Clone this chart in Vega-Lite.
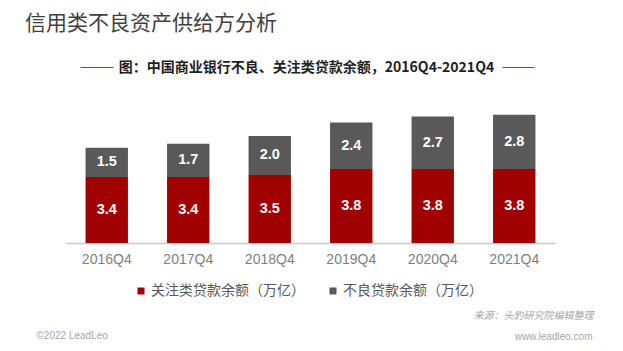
{
  "$schema": "https://vega.github.io/schema/vega-lite/v6.json",
  "width": 489,
  "height": 176,
  "autosize": {"type": "none"},
  "padding": {"left": 66, "top": 67, "right": 68, "bottom": 108},
  "background": "white",
  "config": {"view": {"stroke": null}, "font": "Noto Sans CJK SC"},
  "title": {
    "text": "信用类不良资产供给方分析",
    "anchor": "start",
    "frame": "group",
    "fontSize": 21,
    "fontWeight": "normal",
    "font": "Noto Sans CJK SC",
    "color": "#404040",
    "baseline": "middle",
    "offset": 0,
    "dx": -41,
    "dy": -15
  },
  "data": {
    "values": [
      {"q": "2016Q4", "type": "关注类贷款余额（万亿）", "v": 3.4},
      {"q": "2016Q4", "type": "不良贷款余额（万亿）", "v": 1.5},
      {"q": "2017Q4", "type": "关注类贷款余额（万亿）", "v": 3.4},
      {"q": "2017Q4", "type": "不良贷款余额（万亿）", "v": 1.7},
      {"q": "2018Q4", "type": "关注类贷款余额（万亿）", "v": 3.5},
      {"q": "2018Q4", "type": "不良贷款余额（万亿）", "v": 2.0},
      {"q": "2019Q4", "type": "关注类贷款余额（万亿）", "v": 3.8},
      {"q": "2019Q4", "type": "不良贷款余额（万亿）", "v": 2.4},
      {"q": "2020Q4", "type": "关注类贷款余额（万亿）", "v": 3.8},
      {"q": "2020Q4", "type": "不良贷款余额（万亿）", "v": 2.7},
      {"q": "2021Q4", "type": "关注类贷款余额（万亿）", "v": 3.8},
      {"q": "2021Q4", "type": "不良贷款余额（万亿）", "v": 2.8}
    ]
  },
  "transform": [
    {"stack": "v", "groupby": ["q"], "sort": [{"field": "type", "order": "descending"}], "as": ["y0", "y1"]}
  ],
  "layer": [
    {
      "mark": {"type": "bar"},
      "encoding": {
        "x": {
          "field": "q",
          "type": "nominal",
          "scale": {"domain": ["2016Q4", "2017Q4", "2018Q4", "2019Q4", "2020Q4", "2021Q4"], "paddingInner": 0.48, "paddingOuter": 0.24},
          "axis": {
            "orient": "bottom",
            "title": "来源：头豹研究院编辑整理",
            "titleFont": "Noto Sans CJK SC",
            "titleFontSize": 10,
            "titleFontStyle": "italic",
            "titleFontWeight": "normal",
            "titleColor": "#a6a6a6",
            "titleX": 527,
            "titleY": 72,
            "titleAlign": "right",
            "titleBaseline": "middle",
            "labelFont": "Liberation Sans",
            "labelFontSize": 14,
            "labelColor": "#7f7f7f",
            "labelPadding": 9,
            "labelAngle": 0,
            "ticks": false,
            "domainColor": "#c8c8c8",
            "domainWidth": 1.5,
            "grid": false
          }
        },
        "y": {
          "field": "y0",
          "type": "quantitative",
          "scale": {"domain": [0, 9.05], "nice": false},
          "axis": {
            "orient": "left",
            "title": "图：中国商业银行不良、关注类贷款余额，2016Q4-2021Q4",
            "titleFont": "Noto Sans CJK SC",
            "titleFontSize": 14,
            "titleFontWeight": "bold",
            "titleColor": "#1f1f1f",
            "titleAngle": 0,
            "titleX": 240,
            "titleY": 0,
            "titleAlign": "center",
            "titleBaseline": "middle",
            "labels": false,
            "ticks": false,
            "domain": false,
            "grid": true,
            "values": [9.05],
            "gridColor": "#B0304E",
            "gridWidth": 1.2,
            "gridDash": [0, 14, 33, 389, 32, 60]
          }
        },
        "y2": {"field": "y1"},
        "color": {
          "field": "type",
          "type": "nominal",
          "scale": {"domain": ["关注类贷款余额（万亿）", "不良贷款余额（万亿）"], "range": ["#A00000", "#595959"]},
          "legend": {
            "orient": "none",
            "legendX": 68,
            "legendY": 217,
            "direction": "horizontal",
            "title": null,
            "symbolType": "square",
            "symbolSize": 49,
            "symbolStrokeWidth": 0,
            "labelFont": "Noto Sans CJK SC",
            "labelFontSize": 14,
            "labelColor": "#595959",
            "labelOffset": 3,
            "columnPadding": 21
          }
        }
      }
    },
    {
      "transform": [
        {"fold": ["y0", "y1"], "as": ["edge", "pos"]},
        {"aggregate": [{"op": "mean", "field": "pos", "as": "ym"}], "groupby": ["q", "type", "v"]}
      ],
      "mark": {"type": "text", "color": "white", "font": "Liberation Sans", "fontSize": 14.5, "fontWeight": "bold", "baseline": "middle", "align": "center"},
      "encoding": {
        "x": {
          "field": "q",
          "type": "nominal",
          "scale": {"domain": ["2016Q4", "2017Q4", "2018Q4", "2019Q4", "2020Q4", "2021Q4"], "paddingInner": 0.48, "paddingOuter": 0.24},
          "axis": {
            "orient": "top",
            "title": "©2022 LeadLeo",
            "titleFont": "Liberation Sans",
            "titleFontSize": 10,
            "titleFontWeight": "normal",
            "titleColor": "#a6a6a6",
            "titleX": -30,
            "titleY": 268,
            "titleAlign": "left",
            "titleBaseline": "middle",
            "labels": false,
            "ticks": false,
            "domain": false,
            "grid": false
          }
        },
        "y": {
          "field": "ym",
          "type": "quantitative",
          "scale": {"domain": [0, 9.05], "nice": false},
          "axis": {
            "orient": "right",
            "title": "www.leadleo.com",
            "titleFont": "Liberation Sans",
            "titleFontSize": 10,
            "titleFontWeight": "normal",
            "titleColor": "#a6a6a6",
            "titleAngle": 0,
            "titleX": 37,
            "titleY": 269,
            "titleAlign": "right",
            "titleBaseline": "middle",
            "labels": false,
            "ticks": false,
            "domain": false,
            "grid": false
          }
        },
        "text": {"field": "v", "type": "quantitative", "format": ".1f"}
      }
    }
  ],
  "resolve": {"scale": {"x": "independent", "y": "independent"}}
}
